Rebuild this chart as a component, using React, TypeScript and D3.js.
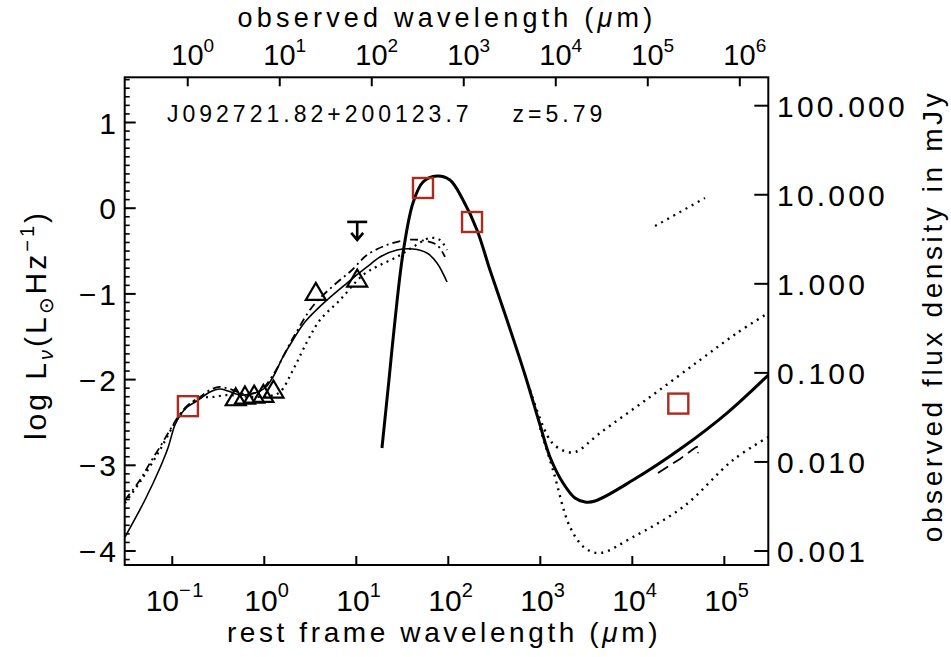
import React from "react";
import * as d3 from "d3";

// ---------- axes ----------
const redshift = 5.79;
const restTicks = [-1, 0, 1, 2, 3, 4, 5];
const obsTicks = [0, 1, 2, 3, 4, 5, 6];
const leftTicks = [-4, -3, -2, -1, 0, 1];
const rightTicks = [0.001, 0.01, 0.1, 1, 10, 100];
const rightTickLabels = ["0.001", "0.010", "0.100", "1.000", "10.000", "100.000"];
const sourceName = "J092721.82+200123.7";
const zLabel = "z=5.79";

// ---------- photometry (log rest wavelength [um], log L_nu) ----------
const squareLogLam = [-0.83, 1.725, 2.258, 4.5];
const squareLogL = [-2.31, 0.236, -0.161, -2.28];
const triLogLam = [-0.31, -0.21, -0.11, -0.01, 0.1, 0.56, 1.01];
const triLogL = [-2.2, -2.18, -2.17, -2.16, -2.11, -0.97, -0.815];
const limitLogLam = [1.01];
const limitLogL = [-0.16];

// ---------- models ----------
const thinSolidLam = [-1.514, -1.297, -1.134, -1.047, -0.971, -0.905, -0.84, -0.732, -0.59, -0.482, -0.395, -0.264, -0.101, 0.008, 0.095, 0.203, 0.312, 0.442, 0.682, 0.899, 1.116, 1.258, 1.442, 1.616, 1.768, 1.877, 1.986];
const thinSolidL = [-3.837, -3.405, -3.031, -2.798, -2.53, -2.401, -2.32, -2.25, -2.145, -2.11, -2.133, -2.18, -2.156, -2.098, -1.97, -1.736, -1.538, -1.328, -1.071, -0.873, -0.686, -0.569, -0.488, -0.476, -0.523, -0.639, -0.861];

const dottedLam = [-1.514, -1.351, -1.134, -0.938, -0.808, -0.699, -0.558, -0.405, -0.264, -0.101, 0.062, 0.171, 0.312, 0.464, 0.605, 0.823, 1.073, 1.258, 1.442, 1.616, 1.801, 1.91, 1.986];
const dottedL = [-3.44, -3.195, -2.821, -2.448, -2.285, -2.215, -2.203, -2.18, -2.191, -2.203, -2.191, -2.145, -1.888, -1.561, -1.305, -1.071, -0.779, -0.663, -0.569, -0.453, -0.348, -0.371, -0.488];

const dashDotLam = [-1.514, -1.351, -1.242, -1.134, -1.025, -0.938, -0.84, -0.699, -0.59, -0.482, -0.373, -0.21, -0.047, 0.095, 0.312, 0.529, 0.747, 0.953, 1.116, 1.334, 1.551, 1.692, 1.877, 1.964];
const dashDotL = [-3.405, -3.172, -2.973, -2.786, -2.588, -2.436, -2.308, -2.203, -2.121, -2.086, -2.11, -2.168, -2.133, -1.946, -1.515, -1.141, -0.908, -0.721, -0.546, -0.429, -0.371, -0.371, -0.429, -0.569];

const thickLam = [1.279, 1.355, 1.421, 1.508, 1.616, 1.725, 1.877, 2.018, 2.16, 2.312, 2.453, 2.638, 2.834, 2.997, 3.105, 3.247, 3.377, 3.486, 3.595, 4.008, 4.551, 5.029, 5.478];
const thickL = [-2.798, -2.005, -1.305, -0.523, 0.061, 0.306, 0.376, 0.329, 0.096, -0.254, -0.721, -1.305, -1.946, -2.53, -2.903, -3.207, -3.382, -3.428, -3.417, -3.172, -2.786, -2.39, -1.946];

const upperLam = [2.888, 3.105, 3.236, 3.377, 3.649, 4.192, 4.736, 5.138, 5.478];
const upperL = [-2.121, -2.705, -2.821, -2.845, -2.623, -2.203, -1.771, -1.456, -1.223];

const lowerLam = [2.997, 3.138, 3.323, 3.486, 3.649, 4.008, 4.551, 5.095, 5.478];
const lowerL = [-2.565, -3.055, -3.72, -3.965, -4.023, -3.837, -3.487, -2.938, -2.67];

const radioDotLam = [4.247, 4.79];
const radioDotL = [-0.208, 0.119];

const shortDashLam = [4.279, 4.518, 4.69, 4.714, 4.714];
const shortDashL = [-3.09, -2.926, -2.79, -2.78, -2.86];

// ---------- layout ----------
const W = 951;
const H = 657;
const LEFT = 124.7;
const RIGHT = 768.3;
const TOP = 77.3;
const BOTTOM = 565;
const FONT = "'Liberation Sans', Arial, Helvetica, sans-serif";

const x = d3.scaleLinear().domain([-1.517, 5.478]).range([LEFT, RIGHT]);
const yL = d3.scaleLinear().domain([-4, 1]).range([551, 122.5]);
const yR = d3.scaleLog().domain([0.001, 100]).range([551, 105.7]);

const zip = (a: number[], b: number[]) => a.map((v, i) => [v, b[i]] as [number, number]);
const lineGen = d3
  .line<[number, number]>()
  .x((d) => x(d[0]))
  .y((d) => yL(d[1]))
  .curve(d3.curveCatmullRom.alpha(0.5));
const segGen = d3
  .line<[number, number]>()
  .x((d) => x(d[0]))
  .y((d) => yL(d[1]));

const minorLeft = d3.range(-4.1, 1.55, 0.1).map((v) => Math.round(v * 10) / 10).filter((v) => Math.abs(v - Math.round(v)) > 0.01);

export default function App() {
  const obsShift = Math.log10(1 + redshift);
  const sqSize = 20;
  const triW = 20;
  const triH = 17;
  return (
    <svg
      width={W}
      height={H}
      viewBox={`0 0 ${W} ${H}`}
      style={{ position: "absolute", left: 0, top: 0, background: "#fff" }}
      fontFamily={FONT}
    >
      <defs>
        <clipPath id="plot">
          <rect x={LEFT} y={TOP} width={RIGHT - LEFT} height={BOTTOM - TOP} />
        </clipPath>
      </defs>
      <rect x={0} y={0} width={W} height={H} fill="#fff" />

      {/* frame */}
      <rect x={LEFT} y={TOP} width={RIGHT - LEFT} height={BOTTOM - TOP} fill="none" stroke="#000" strokeWidth={2} />

      {/* bottom ticks + labels */}
      {restTicks.map((t) => (
        <g key={"b" + t}>
          <line x1={x(t)} x2={x(t)} y1={BOTTOM} y2={BOTTOM - 9} stroke="#000" strokeWidth={2} />
          <text x={x(t) + 3} y={611} fontSize={30} textAnchor="middle">
            <tspan>10</tspan>
            <tspan dy={-14} fontSize={20} letterSpacing={1.5}>{t < 0 ? "\u2212" + Math.abs(t) : String(t)}</tspan>
          </text>
        </g>
      ))}
      <text x={444} y={642} fontSize={28} textAnchor="middle" letterSpacing={3.6}>
        rest frame wavelength (<tspan fontStyle="italic">μ</tspan>m)
      </text>

      {/* top ticks + labels (observed) */}
      {obsTicks.map((t) => (
        <g key={"t" + t}>
          <line x1={x(t - obsShift)} x2={x(t - obsShift)} y1={TOP} y2={TOP + 9} stroke="#000" strokeWidth={2} />
          <text x={x(t - obsShift) + 5} y={65} fontSize={29} textAnchor="middle">
            <tspan>10</tspan>
            <tspan dy={-13} fontSize={19}>{String(t)}</tspan>
          </text>
        </g>
      ))}
      <text x={447} y={27} fontSize={27} textAnchor="middle" letterSpacing={4.2}>
        observed wavelength (<tspan fontStyle="italic">μ</tspan>m)
      </text>

      {/* left ticks */}
      {leftTicks.map((t) => (
        <g key={"l" + t}>
          <line x1={LEFT} x2={LEFT + 11} y1={yL(t)} y2={yL(t)} stroke="#000" strokeWidth={2} />
          <text x={119} y={yL(t) + 11} fontSize={30} textAnchor="end" letterSpacing={3}>
            {t < 0 ? "\u2212" + Math.abs(t) : String(t)}
          </text>
        </g>
      ))}
      {minorLeft.map((t) => (
        <line key={"m" + t} x1={LEFT} x2={LEFT + 5} y1={yL(t)} y2={yL(t)} stroke="#000" strokeWidth={1.6} />
      ))}
      <text
        transform={`translate(46, ${325}) rotate(-90)`}
        fontSize={30}
        textAnchor="middle"
        letterSpacing={3}
      >
        log L<tspan dy={7} fontSize={20} fontStyle="italic">ν</tspan>
        <tspan dy={-7}>(L</tspan>
        <tspan dy={7} fontSize={20}>⊙</tspan>
        <tspan dy={-7}>Hz</tspan>
        <tspan dy={-12} fontSize={20}>−1</tspan>
        <tspan dy={12}>)</tspan>
      </text>

      {/* right ticks */}
      {rightTicks.map((t, i) => (
        <g key={"r" + t}>
          <line x1={RIGHT - 14} x2={RIGHT} y1={yR(t)} y2={yR(t)} stroke="#000" strokeWidth={2} />
          <text x={777} y={yR(t) + 11} fontSize={30} letterSpacing={3.2}>
            {rightTickLabels[i]}
          </text>
        </g>
      ))}
      <text transform={`translate(942, 316) rotate(-90)`} fontSize={28} textAnchor="middle" letterSpacing={3.6}>
        observed flux density in mJy
      </text>

      {/* name */}
      <text x={167} y={122} fontSize={23} letterSpacing={4}>
        {sourceName}
        <tspan dx={40}>{zLabel}</tspan>
      </text>

      {/* curves */}
      <g clipPath="url(#plot)" fill="none" stroke="#000">
        <path d={lineGen(zip(thinSolidLam, thinSolidL)) || ""} strokeWidth={1.6} />
        <path d={lineGen(zip(dottedLam, dottedL)) || ""} strokeWidth={2.2} strokeDasharray="2 4.5" />
        <path d={lineGen(zip(dashDotLam, dashDotL)) || ""} strokeWidth={1.8} strokeDasharray="8 4 2 4" />
        <path d={lineGen(zip(thickLam, thickL)) || ""} strokeWidth={3} />
        <path d={lineGen(zip(upperLam, upperL)) || ""} strokeWidth={2.4} strokeDasharray="2 5" />
        <path d={lineGen(zip(lowerLam, lowerL)) || ""} strokeWidth={2.4} strokeDasharray="2 5" />
        <path d={segGen(zip(radioDotLam, radioDotL)) || ""} strokeWidth={2.2} strokeDasharray="2 5" />
        <path d={segGen(zip(shortDashLam, shortDashL)) || ""} strokeWidth={1.8} strokeDasharray="12 6" />
      </g>

      {/* triangles */}
      {triLogLam.map((lx, i) => {
        const cx = x(lx);
        const cy = yL(triLogL[i]);
        return (
          <path
            key={"tri" + i}
            d={`M${cx},${cy - triH / 2}L${cx + triW / 2},${cy + triH / 2}L${cx - triW / 2},${cy + triH / 2}Z`}
            fill="none"
            stroke="#000"
            strokeWidth={2.2}
            strokeLinejoin="miter"
          />
        );
      })}

      {/* upper limit */}
      {limitLogLam.map((lx, i) => {
        const cx = x(lx);
        const cy = yL(limitLogL[i]);
        return (
          <g key={"lim" + i} stroke="#000" strokeWidth={2.6} fill="none">
            <line x1={cx - 10} x2={cx + 10} y1={cy} y2={cy} />
            <line x1={cx} x2={cx} y1={cy} y2={cy + 18} />
            <path d={`M${cx - 6},${cy + 11}L${cx},${cy + 18}L${cx + 6},${cy + 11}`} />
          </g>
        );
      })}

      {/* squares */}
      {squareLogLam.map((lx, i) => (
        <rect
          key={"sq" + i}
          x={x(lx) - sqSize / 2}
          y={yL(squareLogL[i]) - sqSize / 2}
          width={sqSize}
          height={sqSize}
          fill="none"
          stroke="#ad2a1e"
          strokeWidth={2.4}
        />
      ))}
    </svg>
  );
}
